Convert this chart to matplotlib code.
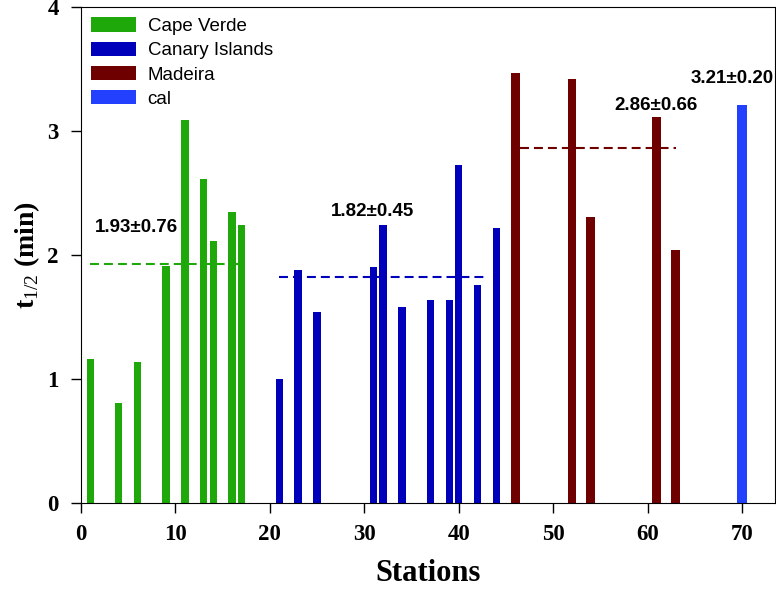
import matplotlib
matplotlib.use("Agg")
import matplotlib.pyplot as plt

# station numbers and half-life values (min)
cv_x = [1, 4, 6, 9, 11, 13, 14, 16, 17]
cv_t = [1.16, 0.81, 1.14, 1.91, 3.09, 2.61, 2.11, 2.35, 2.24]

ci_x = [21, 23, 25, 31, 32, 34, 37, 39, 40, 42, 44]
ci_t = [1.00, 1.88, 1.54, 1.90, 2.24, 1.58, 1.64, 1.64, 2.73, 1.76, 2.22]

ma_x = [46, 52, 54, 61, 63]
ma_t = [3.47, 3.42, 2.31, 3.11, 2.04]

cal_x = [70]
cal_t = [3.21]

# group means
means = [1.93, 1.82, 2.86]
mean_spans = [(1, 17), (21, 43), (46.5, 63)]
mean_labels = ["1.93\u00b10.76", "1.82\u00b10.45", "2.86\u00b10.66", "3.21\u00b10.20"]

green = "#1fa80a"
blue = "#0000bb"
maroon = "#6e0000"
cal_blue = "#2340ff"

plt.rcParams["mathtext.fontset"] = "custom"
plt.rcParams["mathtext.bf"] = "Liberation Serif:bold"
plt.rcParams["mathtext.rm"] = "Liberation Serif"

fig = plt.figure(figsize=(7.76, 5.9), dpi=100)
ax = fig.add_axes([0.1044, 0.1475, 0.8943, 0.8405])

ax.bar(cv_x, cv_t, width=0.78, color=green, label="Cape Verde")
ax.bar(ci_x, ci_t, width=0.78, color=blue, label="Canary Islands")
ax.bar(ma_x, ma_t, width=0.95, color=maroon, label="Madeira")
ax.bar(cal_x, cal_t, width=1.0, color=cal_blue, label="cal")

for m, (x0, x1), c in zip(means, mean_spans, [green, blue, maroon]):
    ax.plot([x0, x1], [m, m], color=c, lw=1.5, dashes=(4.3, 2.4))

lab_font = dict(family="Liberation Sans", fontsize=13.5, fontweight="bold")
ax.text(1.5, 2.22, mean_labels[0], ha="left", va="center", **lab_font)
ax.text(30.9, 2.35, mean_labels[1], ha="center", va="center", **lab_font)
ax.text(60.9, 3.21, mean_labels[2], ha="center", va="center", **lab_font)
ax.text(69.0, 3.42, mean_labels[3], ha="center", va="center", **lab_font)

ax.set_xlim(0, 73.5)
ax.set_ylim(0, 4)
ax.set_xticks(range(0, 80, 10))
ax.set_yticks(range(0, 5))
ax.tick_params(direction="out", length=7, width=1, top=False, right=False)
ax.tick_params(axis="y", pad=9)
ax.tick_params(axis="x", pad=8)
for lbl in ax.get_xticklabels() + ax.get_yticklabels():
    lbl.set_family("Liberation Serif")
    lbl.set_fontweight("bold")
    lbl.set_fontsize(16.5)

ax.set_xlabel("Stations", family="Liberation Serif", fontweight="bold",
              fontsize=22, labelpad=10)
ax.set_ylabel(r"$\mathbf{t}_{1/2}$ (min)", family="Liberation Serif",
              fontweight="bold", fontsize=20, labelpad=4)

ax.legend(loc="upper left", frameon=False, prop={"family": "Liberation Sans", "size": 13.5},
          handlelength=2.4, handleheight=0.8, labelspacing=0.35, handletextpad=0.6,
          borderaxespad=0.3, borderpad=0.25)

fig.savefig("out.png", dpi=100)
